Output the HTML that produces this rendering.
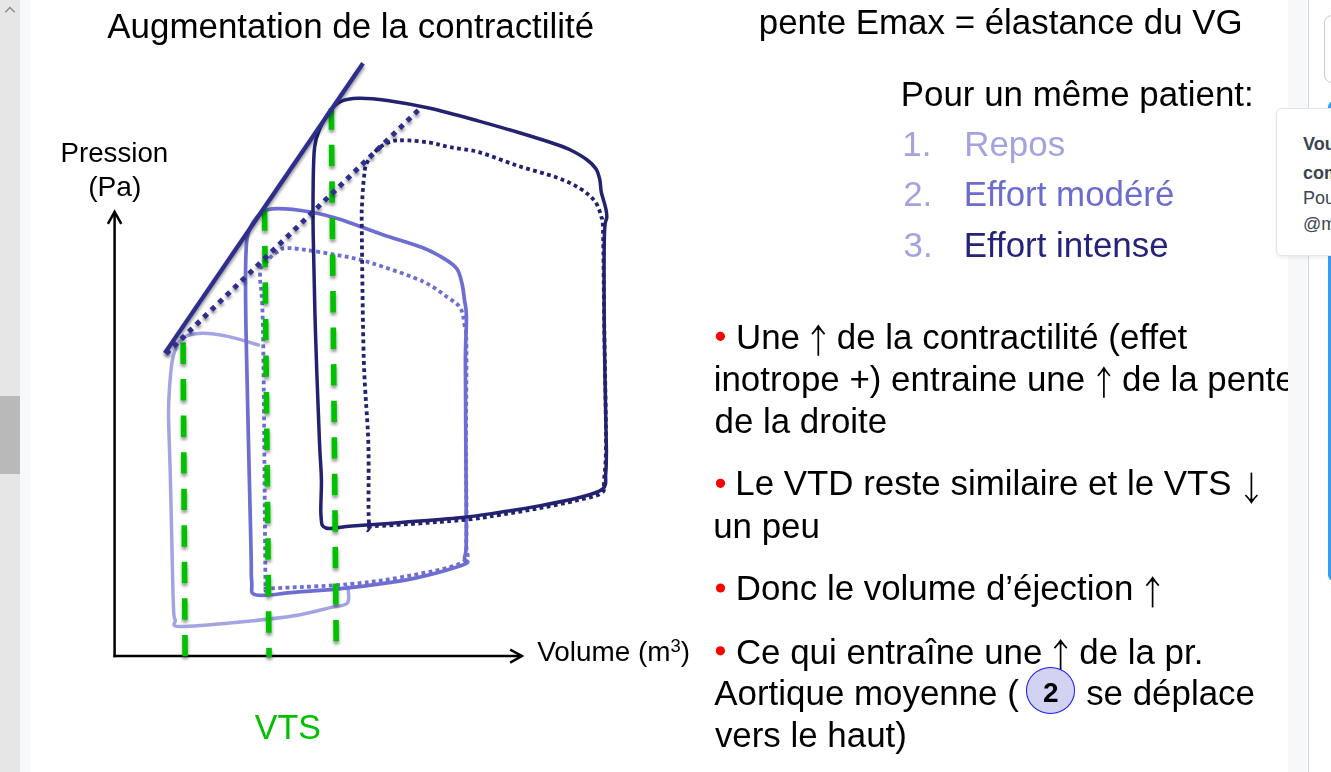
<!DOCTYPE html>
<html><head><meta charset="utf-8">
<style>
html,body{margin:0;padding:0;width:1331px;height:772px;overflow:hidden;background:#fff;}
body{position:relative;font-family:"Liberation Sans",sans-serif;}
.t{position:absolute;white-space:pre;transform:scaleY(1.012);transform-origin:0 0.8467em;}
.ha{color:transparent;}
.t sup{font-size:0.66em;vertical-align:0;position:relative;top:-0.47em;}
.b{position:absolute;border-radius:50%;background:#ff0000;}
#slide{position:absolute;left:30px;top:0;width:1258px;height:772px;overflow:hidden;background:#fff;}
#inner{position:absolute;left:-30px;top:0;width:1331px;height:772px;}
#lscroll{position:absolute;left:0;top:0;width:20px;height:772px;background:#e6e6e6;}
#lthumb{position:absolute;left:0;top:396px;width:20px;height:78px;background:#b9b9b9;}
#lstrip{position:absolute;left:20px;top:0;width:10px;height:772px;background:#f7f8fa;}
#rstrip{position:absolute;left:1288px;top:0;width:20px;height:772px;background:#f7f8fa;}
#rborder{position:absolute;left:1308px;top:0;width:1px;height:772px;background:#d5d8dc;}
#side{position:absolute;left:1309px;top:0;width:22px;height:772px;background:#fff;}
#inp{position:absolute;left:1324px;top:15px;width:30px;height:68px;border:1.5px solid #c6cbd1;border-radius:8px;box-sizing:border-box;}
#blue{position:absolute;left:1328px;top:101px;width:20px;height:480px;background:#3d9bef;border-radius:6px;}
#pop{position:absolute;left:1276px;top:108px;width:80px;height:148px;background:#fff;border:1px solid #e3e5e8;border-radius:6px;box-sizing:border-box;box-shadow:0 2px 4px rgba(0,0,0,0.07);}
.pt{position:absolute;left:1303px;font-size:18px;color:#3b4550;white-space:pre;transform:translateY(1px) scaleY(1.01);}
.circ{position:absolute;left:1025.8px;top:667.4px;width:49.2px;height:46.4px;box-sizing:border-box;border:1.7px solid #1a1aff;border-radius:50%;background:#d2d2f2;}
svg{position:absolute;left:0;top:0;}
</style></head><body>
<div id="slide"><div id="inner">
<svg width="1331" height="772" viewBox="0 0 1331 772">
<defs><filter id="sh" x="-50%" y="-10%" width="200%" height="120%"><feDropShadow dx="0.3" dy="2.8" stdDeviation="1.5" flood-color="#000" flood-opacity="0.42"/></filter></defs>
<g stroke="#000" stroke-width="2.5" fill="none"><path d="M114.6,657.2 L114.6,213"/><path d="M113.4,656 L522,656"/><path d="M107.9,223.8 L114.6,211.8 L121.3,223.8" stroke-linejoin="miter"/><path d="M510.2,649.7 L521.8,656 L510.2,662.6"/></g>
<path d="M260.0,345.4 C254.6,343.9 237.4,338.4 227.7,336.4 C218.0,334.4 209.1,333.1 201.8,333.3 C194.5,333.5 188.4,333.9 183.7,337.7 C178.9,341.4 175.7,347.2 173.3,355.8 C170.9,364.4 170.2,379.1 169.4,389.5 C168.6,399.9 168.4,403.8 168.6,418.0 C168.8,432.2 169.7,453.0 170.3,475.0 C170.9,497.0 171.5,527.8 172.0,550.0 C172.5,572.2 173.0,596.3 173.5,608.0 C174.0,619.7 174.1,616.9 175.2,620.0 C176.3,623.1 169.2,626.2 180.0,626.5 C190.8,626.8 221.0,623.8 240.0,622.0 C259.0,620.2 279.1,618.1 294.1,615.7 C309.1,613.3 321.3,609.7 330.2,607.6 C339.1,605.5 344.3,606.2 347.3,603.1 C350.3,600.0 347.9,591.6 348.2,588.7 C348.5,585.9 349.2,586.5 349.4,586.0" fill="none" stroke="#a4a4e4" stroke-width="3.5"/>
<path d="M265.5,588.5 C265.5,588.5 265.6,603.1 265.2,560.0 C264.8,516.9 263.9,377.4 263.0,330.0 C262.1,282.6 259.8,286.3 260.0,275.5 C260.2,264.7 261.2,268.9 264.0,265.0 C266.8,261.1 272.2,254.8 277.0,252.0 C281.8,249.2 280.4,247.4 292.5,248.3 C304.6,249.2 334.7,254.4 349.5,257.4 C364.3,260.4 369.3,262.3 381.5,266.3 C393.7,270.3 411.8,276.3 422.9,281.5 C433.9,286.7 441.6,293.0 447.8,297.4 C454.0,301.8 457.4,303.3 460.2,307.8 C463.0,312.3 463.4,318.2 464.4,324.4 C465.4,330.6 466.1,324.2 466.4,345.1 C466.7,366.0 466.0,417.5 466.0,450.0 C466.0,482.5 467.0,521.2 466.3,540.0 C465.6,558.8 472.5,556.3 461.8,562.5 C451.1,568.7 421.2,573.4 402.3,577.0 C383.4,580.6 366.9,582.5 348.2,584.2 C329.5,586.0 303.8,586.8 290.0,587.5 C276.2,588.2 265.5,588.5 265.5,588.5Z" fill="#fff" stroke="#6e6ed2" stroke-width="3.8" stroke-dasharray="3.8 3.4"/>
<path d="M256.2,595.0 C249.1,593.2 252.6,590.7 251.7,581.5 C250.8,572.3 251.8,581.9 250.8,540.0 C249.9,498.1 246.8,377.5 246.0,330.0 C245.2,282.5 245.3,271.7 245.9,254.8 C246.5,238.0 247.1,235.8 249.7,228.9 C252.3,222.0 256.8,216.7 261.4,213.3 C265.9,209.9 268.8,208.9 277.0,208.7 C285.2,208.5 300.3,210.3 310.6,212.0 C320.9,213.7 327.1,215.4 338.9,219.1 C350.7,222.8 367.5,229.4 381.5,234.2 C395.5,239.0 412.5,243.8 422.9,247.8 C433.2,251.8 437.9,254.8 443.6,258.3 C449.3,261.8 453.9,264.6 457.0,269.0 C460.1,273.4 461.1,279.9 462.3,285.0 C463.5,290.1 463.7,294.3 464.4,299.5 C465.1,304.7 466.2,306.1 466.4,316.1 C466.6,326.1 465.5,339.0 465.4,359.6 C465.3,380.2 465.6,409.9 465.8,440.0 C466.0,470.1 466.5,520.3 466.3,540.0 C466.1,559.7 464.5,554.1 464.5,558.0 C464.5,561.9 470.7,561.0 466.3,563.4 C461.9,565.8 449.0,569.6 438.3,572.5 C427.6,575.4 417.3,578.1 402.3,580.6 C387.3,583.1 366.2,585.8 348.2,587.8 C330.2,589.8 309.4,591.1 294.1,592.3 C278.8,593.5 263.3,596.8 256.2,595.0Z" fill="none" stroke="#6e6ed2" stroke-width="3.7"/>
<path d="M369.0,523.0 C367.9,509.0 369.2,469.2 368.3,442.0 C367.4,414.8 364.9,395.3 363.8,360.0 C362.7,324.7 362.1,256.4 361.8,230.0 C361.5,203.6 361.8,210.5 362.2,201.6 C362.6,192.7 363.3,182.8 364.1,176.3 C364.9,169.8 364.7,167.2 367.0,162.7 C369.3,158.2 373.6,152.7 377.7,149.1 C381.8,145.5 386.4,142.8 391.3,141.3 C396.2,139.9 400.4,140.2 406.9,140.4 C413.3,140.6 422.8,141.5 430.0,142.6 C437.2,143.7 441.9,145.6 450.0,147.2 C458.1,148.8 467.6,149.1 478.9,152.2 C490.2,155.3 504.8,161.6 517.8,165.8 C530.8,170.0 546.2,173.7 556.6,177.5 C567.0,181.3 573.6,184.5 580.0,188.5 C586.4,192.5 591.5,196.8 595.0,201.5 C598.5,206.2 600.0,212.1 601.3,217.0 C602.6,221.9 602.5,212.2 603.0,231.0 C603.5,249.8 603.8,295.2 604.3,330.0 C604.8,364.8 606.0,415.0 606.0,440.0 C606.0,465.0 604.8,471.2 604.0,480.0 C603.2,488.8 606.1,489.6 601.5,493.0 C596.9,496.4 587.2,497.9 576.6,500.5 C566.0,503.1 550.7,506.1 537.7,508.5 C524.8,510.9 511.8,513.0 498.9,515.0 C485.9,517.0 480.6,518.4 460.0,520.3 C439.4,522.1 390.2,525.6 375.0,526.1 C359.8,526.6 370.1,537.0 369.0,523.0Z" fill="none" stroke="#222270" stroke-width="3.8" stroke-dasharray="3.8 3.4"/>
<path d="M326.0,528.0 C320.9,526.3 321.8,524.2 321.0,516.0 C320.2,507.8 321.7,491.7 321.4,479.0 C321.1,466.3 320.4,464.8 319.4,440.0 C318.4,415.2 316.4,364.2 315.4,330.0 C314.4,295.8 313.6,259.3 313.2,234.6 C312.8,209.9 313.0,196.6 313.2,182.0 C313.4,167.4 313.6,155.9 314.6,147.2 C315.6,138.5 317.0,135.5 319.4,129.7 C321.8,123.9 325.5,116.9 329.1,112.2 C332.7,107.5 335.9,103.8 340.8,101.5 C345.7,99.2 350.5,98.4 358.3,98.2 C366.1,98.0 375.4,98.8 387.4,100.5 C399.3,102.2 414.8,104.9 430.0,108.3 C445.2,111.7 464.3,117.1 478.9,121.1 C493.5,125.1 504.8,128.4 517.8,132.3 C530.8,136.2 547.7,141.5 556.6,144.5 C565.5,147.5 566.0,147.7 571.0,150.2 C576.0,152.7 582.5,156.4 586.6,159.5 C590.8,162.6 593.7,165.4 595.9,168.8 C598.1,172.2 598.9,175.8 599.8,179.7 C600.7,183.6 600.4,187.7 601.3,192.1 C602.2,196.5 604.3,201.9 605.2,206.1 C606.1,210.2 606.9,212.1 606.8,217.0 C606.7,221.9 604.8,216.8 604.4,235.6 C604.0,254.4 604.0,295.9 604.3,330.0 C604.6,364.1 605.9,419.5 606.2,440.0 C606.6,460.5 606.5,447.4 606.4,453.0 C606.3,458.6 606.4,467.7 605.7,473.7 C605.1,479.7 607.4,485.1 602.5,489.2 C597.6,493.3 587.4,495.5 576.6,498.3 C565.8,501.1 550.7,503.7 537.7,506.1 C524.8,508.5 511.8,510.6 498.9,512.5 C485.9,514.4 475.9,516.1 460.0,517.7 C444.1,519.3 421.6,520.9 403.6,522.3 C385.6,523.7 364.7,525.1 351.8,526.1 C338.9,527.1 331.1,529.7 326.0,528.0Z" fill="none" stroke="#222270" stroke-width="3.5"/>
<g stroke="#00c000" stroke-width="5.6" stroke-dasharray="21.4 15.15" filter="url(#sh)"><path d="M183.1,342.5 L185.1,657"/><path d="M264.5,209.3 L269.1,657"/><path d="M331.3,108.3 L336.2,641.6"/></g>
<path d="M164.8,353.1 L363,63.3" stroke="#2e2e8c" stroke-width="4.3" filter="url(#sh)"/>
<path d="M166.1,353.7 L418.3,110.2" stroke="#2e2e8c" stroke-width="5" stroke-dasharray="5 5.47" filter="url(#sh)"/>
</svg>

<div class="t" style="left:107.33px;top:8.95px;font-size:34.9px;line-height:34.9px;color:#000;">Augmentation de la contractilité</div>
<div class="t" style="left:758.75px;top:4.65px;font-size:34.9px;line-height:34.9px;color:#000;">pente Emax = élastance du VG</div>
<div class="t" style="left:900.74px;top:76.55px;font-size:34.9px;line-height:34.9px;color:#000;">Pour un même patient:</div>
<div class="t" style="left:902.24px;top:127.05px;font-size:34.9px;line-height:34.9px;color:#a3a3e0;">1.</div>
<div class="t" style="left:964.24px;top:127.05px;font-size:34.9px;line-height:34.9px;color:#a3a3e0;">Repos</div>
<div class="t" style="left:903.14px;top:176.95px;font-size:34.9px;line-height:34.9px;color:#a3a3e0;">2.</div>
<div class="t" style="left:963.64px;top:176.95px;font-size:34.9px;line-height:34.9px;color:#6c6ccf;">Effort modéré</div>
<div class="t" style="left:903.57px;top:227.95px;font-size:34.9px;line-height:34.9px;color:#a3a3e0;">3.</div>
<div class="t" style="left:963.64px;top:227.95px;font-size:34.9px;line-height:34.9px;color:#23237a;">Effort intense</div>
<svg width="1331" height="772" style="position:absolute;left:0;top:0"><circle cx="720.4" cy="336.3" r="4.6" fill="#ff0000"/></svg>
<div class="t" style="left:736.01px;top:320.35px;font-size:34.9px;line-height:34.9px;color:#000;">Une <span class="ha">↑</span> de la contractilité (effet</div>
<div class="t" style="left:713.67px;top:362.15px;font-size:34.9px;line-height:34.9px;color:#000;">inotrope +) entraine une <span class="ha">↑</span> de la pente</div>
<div class="t" style="left:714.53px;top:403.75px;font-size:34.9px;line-height:34.9px;color:#000;">de la droite</div>
<svg width="1331" height="772" style="position:absolute;left:0;top:0"><circle cx="720.5" cy="483.3" r="4.6" fill="#ff0000"/></svg>
<div class="t" style="left:735.24px;top:466.25px;font-size:34.9px;line-height:34.9px;color:#000;">Le VTD reste similaire et le VTS <span class="ha">↓</span></div>
<div class="t" style="left:713.13px;top:509.05px;font-size:34.9px;line-height:34.9px;color:#000;">un peu</div>
<svg width="1331" height="772" style="position:absolute;left:0;top:0"><circle cx="720.5" cy="588" r="4.6" fill="#ff0000"/></svg>
<div class="t" style="left:735.74px;top:571.45px;font-size:34.9px;line-height:34.9px;color:#000;">Donc le volume d’éjection <span class="ha">↑</span></div>
<svg width="1331" height="772" style="position:absolute;left:0;top:0"><circle cx="720.4" cy="650.8" r="4.6" fill="#ff0000"/></svg>
<div class="t" style="left:735.93px;top:634.55px;font-size:34.9px;line-height:34.9px;color:#000;">Ce qui entraîne une <span class="ha">↑</span> de la pr.</div>
<div class="t" style="left:714.33px;top:675.85px;font-size:34.9px;line-height:34.9px;color:#000;">Aortique moyenne (</div>
<div class="t" style="left:1086.13px;top:675.95px;font-size:34.9px;line-height:34.9px;color:#000;">se déplace</div>
<div class="t" style="left:714.88px;top:717.85px;font-size:34.9px;line-height:34.9px;color:#000;">vers le haut)</div>
<svg width="1331" height="772" style="position:absolute;left:0;top:0"><g fill="none" stroke="#000" stroke-width="1.7" stroke-linecap="butt"><path d="M818.3,355.8 L818.3,327.7"/><path d="M812.0,334.2 Q815.5,330.5 818.3,326.0 Q821.1,330.5 824.6,334.2"/><path d="M816.5,329.2 L818.3,326.2 L820.1,329.2 L818.3,330.5Z" fill="#000" stroke="none"/><path d="M1103.9,397.8 L1103.9,369.6"/><path d="M1097.9,375.9 Q1101.2,372.3 1103.9,367.9 Q1106.6,372.3 1109.9,375.9"/><path d="M1102.1,371.1 L1103.9,368.1 L1105.7,371.1 L1103.9,372.4Z" fill="#000" stroke="none"/><path d="M1251.4,472.6 L1251.4,500.7"/><path d="M1245.4,495.0 Q1248.7,498.3 1251.4,502.4 Q1254.1,498.3 1257.4,495.0"/><path d="M1249.6,499.2 L1251.4,502.2 L1253.2,499.2 L1251.4,497.9Z" fill="#000" stroke="none"/><path d="M1152.6,607.4 L1152.6,579.5"/><path d="M1146.4,585.6 Q1149.8,582.1 1152.6,577.8 Q1155.4,582.1 1158.8,585.6"/><path d="M1150.8,581.0 L1152.6,578.0 L1154.4,581.0 L1152.6,582.3Z" fill="#000" stroke="none"/><path d="M1060.6,672 L1060.6,642.2"/><path d="M1054.4,648.1 Q1057.8,644.7 1060.6,640.5 Q1063.4,644.7 1066.8,648.1"/><path d="M1058.8,643.7 L1060.6,640.7 L1062.4,643.7 L1060.6,645.0Z" fill="#000" stroke="none"/></g></svg>
<div class="circ"></div><div class="t" style="left:1043px;top:678.6px;font-size:28px;line-height:28px;font-weight:bold">2</div>
<div class="t" style="left:60.53px;top:139.05px;font-size:27.7px;line-height:27.7px;color:#000;">Pression</div>
<div class="t" style="left:88.15px;top:172.42px;font-size:28.2px;line-height:28.2px;color:#000;">(Pa)</div>
<div class="t" style="left:537.18px;top:637.58px;font-size:27.9px;line-height:27.9px;color:#000;">Volume (m<sup>3</sup>)</div>
<div class="t" style="left:254.85px;top:710.21px;font-size:34px;line-height:34px;color:#00c000;">VTS</div>

</div></div>
<div id="lscroll"><svg width="20" height="20" style="position:absolute;left:0;top:0"><path d="M5.3 12.3 L9.9 7.4 L14.7 12.2" fill="none" stroke="#8a8a8a" stroke-width="1.4"/></svg></div>
<div id="lthumb"></div>
<div id="lstrip"></div>
<div id="rstrip"></div>
<div id="rborder"></div>
<div id="side"><div id="inp" style="left:15px"></div><div id="blue" style="left:19px"></div></div>
<div id="pop"></div>
<div class="pt" style="top:131px;font-weight:bold;line-height:24px">Vous</div>
<div class="pt" style="top:160px;font-weight:bold;line-height:24px">com</div>
<div class="pt" style="top:185px;line-height:24px">Pour</div>
<div class="pt" style="top:211px;line-height:24px">@m</div>
</body></html>
